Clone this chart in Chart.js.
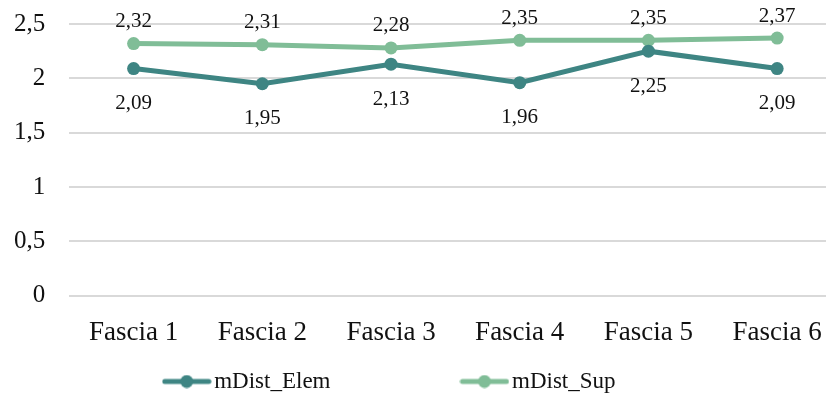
<!DOCTYPE html>
<html>
<head>
<meta charset="utf-8">
<script src="https://cdn.jsdelivr.net/npm/chart.js@4"></script>
<style>
  html, body { margin: 0; padding: 0; background: #fff; overflow: hidden; }
  #wrap { width: 848px; height: 396px; position: relative; }
</style>
</head>
<body>
<div id="wrap"><canvas id="lineChart"></canvas></div>
<script>
const categories = ['Fascia 1', 'Fascia 2', 'Fascia 3', 'Fascia 4', 'Fascia 5', 'Fascia 6'];
const elemValues = [2.09, 1.95, 2.13, 1.96, 2.25, 2.09];
const supValues = [2.32, 2.31, 2.28, 2.35, 2.35, 2.37];
const yTicks = [0, 0.5, 1, 1.5, 2, 2.5];

const elemColor = '#3e8583';
const supColor = '#80bd97';
const fontFamily = "'Liberation Serif', 'DejaVu Serif', serif";
Chart.defaults.font.family = fontFamily;
Chart.defaults.color = '#111';

function fmt(v) {
  return String(v).replace('.', ',');
}

// legend marker: short line with a dot in the middle
function legendMarker(color) {
  const c = document.createElement('canvas');
  c.width = 50;
  c.height = 14;
  const g = c.getContext('2d');
  g.strokeStyle = color;
  g.lineWidth = 5;
  g.lineCap = 'round';
  g.beginPath();
  g.moveTo(3, 7);
  g.lineTo(47, 7);
  g.stroke();
  g.fillStyle = color;
  g.beginPath();
  g.arc(25, 7, 6.5, 0, Math.PI * 2);
  g.fill();
  return c;
}

// data labels: above for Sup, below for Elem
const valueLabels = {
  id: 'valueLabels',
  afterDatasetsDraw(chart) {
    const ctx = chart.ctx;
    ctx.save();
    ctx.font = '21px ' + fontFamily;
    ctx.fillStyle = '#111';
    ctx.textAlign = 'center';
    ctx.textBaseline = 'middle';
    chart.data.datasets.forEach((ds, i) => {
      const meta = chart.getDatasetMeta(i);
      meta.data.forEach((pt, j) => {
        const off = ds.labelPos === 'above' ? -22 : 35;
        ctx.fillText(fmt(ds.data[j]), pt.x, pt.y + off);
      });
    });
    ctx.restore();
  }
};

new Chart(document.getElementById('lineChart'), {
  type: 'line',
  data: {
    labels: categories,
    datasets: [{
      label: 'mDist_Elem',
      data: elemValues,
      borderColor: elemColor,
      backgroundColor: elemColor,
      borderWidth: 5,
      pointRadius: 6.5,
      pointBackgroundColor: elemColor,
      pointBorderWidth: 0,
      tension: 0,
      labelPos: 'below'
    }, {
      label: 'mDist_Sup',
      data: supValues,
      borderColor: supColor,
      backgroundColor: supColor,
      borderWidth: 5,
      pointRadius: 6.5,
      pointBackgroundColor: supColor,
      pointBorderWidth: 0,
      tension: 0,
      labelPos: 'above'
    }]
  },
  options: {
    responsive: true,
    maintainAspectRatio: false,
    animation: false,
    layout: { padding: { top: 24, right: 0, bottom: -7, left: -10 } },
    scales: {
      x: {
        offset: true,
        grid: { display: false, drawTicks: false },
        border: { display: false },
        ticks: { color: '#111', font: { family: fontFamily, size: 27 }, padding: 21 }
      },
      y: {
        min: 0,
        max: 2.5,
        afterBuildTicks: axis => { axis.ticks = yTicks.map(v => ({ value: v })); },
        afterFit: axis => { axis.paddingTop = 0; axis.paddingBottom = 0; },
        grid: { color: '#d9d9d9', lineWidth: 2, drawTicks: false },
        border: { display: false },
        ticks: {
          color: '#111',
          font: { family: fontFamily, size: 25 },
          padding: 24,
          callback: v => fmt(v)
        }
      }
    },
    plugins: {
      legend: {
        position: 'bottom',
        labels: {
          color: '#111',
          font: { family: fontFamily, size: 23 },
          usePointStyle: true,
          pointStyleWidth: 32,
          padding: 0,
          generateLabels: chart => chart.data.datasets.map((ds, i) => ({
            // trailing spaces set the gap between entries and shift the block left
            text: ds.label + ' '.repeat(i === 0 ? 24 : 9),
            pointStyle: legendMarker(ds.borderColor),
            fillStyle: ds.borderColor,
            strokeStyle: ds.borderColor,
            lineWidth: 0,
            hidden: false,
            datasetIndex: i,
            fontColor: '#111'
          }))
        }
      },
      tooltip: { enabled: false }
    }
  },
  plugins: [valueLabels]
});
</script>
</body>
</html>
